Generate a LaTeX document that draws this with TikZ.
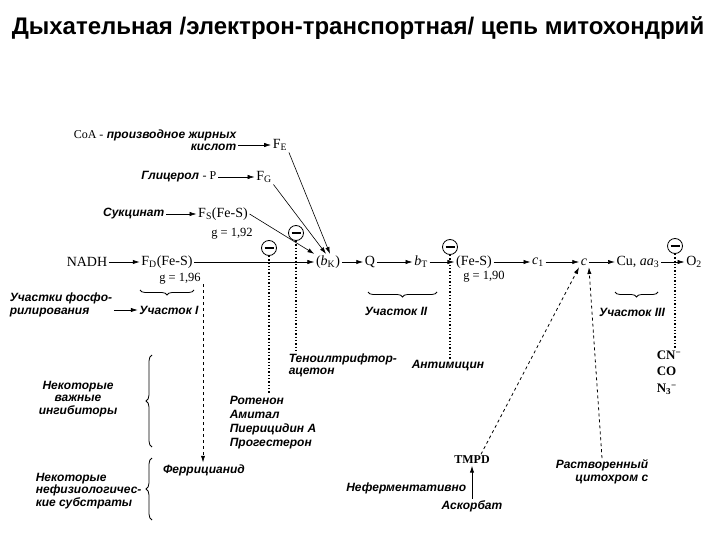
\documentclass[tikz,border=0pt]{standalone}
\usepackage{fontspec}
\setmainfont{Liberation Serif}
\setsansfont{Liberation Sans}
\usetikzlibrary{arrows.meta,decorations.pathreplacing}

\begin{document}
\begin{tikzpicture}[x=1pt, y=-1pt, >={Latex[length=2.4mm,width=1.5mm]}, semithick,
	every node/.style={inner sep=1.5pt},
	carrier/.style={font=\fontsize{14}{16}\selectfont},
	note/.style={font=\sffamily\bfseries\itshape\fontsize{12}{12.5}\selectfont},
	gval/.style={font=\fontsize{12.5}{14}\selectfont},
	block/.style={circle, draw, thick, minimum size=15pt, inner sep=0pt,
		path picture={\draw[line width=1.6pt] ([xshift=-4.5pt]path picture bounding box.center) -- ([xshift=4.5pt]path picture bounding box.center);}},
	blockline/.style={line width=1.3pt, dotted},
	feed/.style={->, thick, dashed},
	site/.style={decorate, decoration={brace, mirror, amplitude=5pt}, thick},
	group/.style={decorate, decoration={brace, amplitude=6pt}, thick}]
	\useasboundingbox (0,0) rectangle (720,540);
	\node[font=\sffamily\bfseries\fontsize{24}{26}\selectfont] (title) at (358,28) {Дыхательная /электрон-транспортная/ цепь митохондрий};
	\node[note, align=right, anchor=east] (coa) at (238,140) {{\rmfamily\upshape\mdseries CoA -} производное жирных\\кислот};
	\node[note, anchor=east] (glyc) at (218,177) {Глицерол {\rmfamily\upshape\mdseries - P}};
	\node[note, anchor=east] (succ) at (166,214) {Сукцинат};
	\node[carrier] (fe) at (280,145) {F\textsubscript{E}};
	\node[carrier] (fg) at (264,177) {F\textsubscript{G}};
	\node[carrier] (fs) at (223,214) {F\textsubscript{S}(Fe-S)};
	\node[gval] (g192) at (232,234) {g = 1,92};
	\node[carrier] (nadh) at (87,262) {NADH};
	\node[carrier] (fd) at (167,262) {F\textsubscript{D}(Fe-S)};
	\node[gval] (g196) at (180,279) {g = 1,96};
	\node[carrier] (bk) at (328,262) {(\textit{b}\textsubscript{K})};
	\node[carrier] (q) at (370,262) {Q};
	\node[carrier] (bt) at (421,262) {\textit{b}\textsubscript{T}};
	\node[carrier] (fes) at (474,262) {(Fe-S)};
	\node[gval] (g190) at (484,277) {g = 1,90};
	\node[carrier] (c1) at (538,262) {\textit{c}\textsubscript{1}};
	\node[carrier] (cc) at (584,262) {\textit{c}};
	\node[carrier] (cu) at (638,262) {Cu, \textit{aa}\textsubscript{3}};
	\node[carrier] (o2) at (694,262) {O\textsubscript{2}};
	\draw[->] (coa.east |- fe) -- (fe);
	\draw[->] (glyc) -- (fg);
	\draw[->] (succ) -- (fs);
	\foreach \a/\b in {nadh/fd, fd/bk, bk/q, q/bt, bt/fes, fes/c1, c1/cc, cc/cu, cu/o2}
		\draw[->] (\a) -- (\b);
	\draw[->] (fe.south east) -- ([xshift=2pt]bk.north);
	\draw[->] (fg.south east) -- ([xshift=-2pt]bk.north);
	\draw[->] (fs.east) -- (bk.north west);
	\node[block] (m1) at (269,248) {};
	\node[block] (m2) at (296,233) {};
	\node[block] (m3) at (450,247) {};
	\node[block] (m4) at (675,246) {};
	\draw[site] (140,290) -- (194,290);
	\draw[site] (368,292) -- (437,292);
	\draw[site] (615,292) -- (658,292);
	\node[note, align=left, anchor=west] (phos) at (8,305) {Участки фосфо-\\рилирования};
	\node[note] (site1) at (169,310) {Участок I};
	\node[note] (site2) at (396,311) {Участок II};
	\node[note] (site3) at (632,312) {Участок III};
	\draw[->] (phos.east |- site1) -- (site1);
	\node[note, align=left, anchor=north west] (tta) at (287,352) {Теноилтрифтор-\\ ацетон};
	\node[note] (anti) at (448,366) {Антимицин};
	\node[note, align=left, anchor=north west, font=\sffamily\bfseries\itshape\fontsize{12}{14}\selectfont] (inhlist) at (228,394) {Ротенон\\Амитал\\Пиерицидин А\\Прогестерон};
	\node[align=left, anchor=north west, font=\bfseries\fontsize{13}{16.5}\selectfont] (cnlist) at (655,349) {CN\textsuperscript{−}\\CO\\N\textsubscript{3}\textsuperscript{−}};
	\draw[blockline] (m1.south) -- (m1.south |- inhlist.north);
	\draw[blockline] (m2.south) -- (m2.south |- tta.north);
	\draw[blockline] (m3.south) -- (m3.south |- anti.north);
	\draw[blockline] (m4.south) -- (m4.south |- cnlist.north);
	\node[note, align=center] (inhlbl) at (78,399) {Некоторые\\важные\\ингибиторы};
	\node[note, align=left, anchor=west] (sublbl) at (34,491) {Некоторые\\нефизиологичес-\\кие субстраты};
	\draw[group] (152,447) -- (152,355);
	\draw[group] (152,520) -- (152,458);
	\node[note] (ferri) at (204,470) {Феррицианид};
	\coordinate (fdx) at (203,284);
	\draw[feed] (fdx) -- (fdx |- ferri.north);
	\node[font=\bfseries\fontsize{12}{14}\selectfont] (tmpd) at (472,460) {TMPD};
	\node[note] (ascorb) at (472,506) {Аскорбат};
	\node[note, anchor=east] (nonenz) at (468,488) {Неферментативно};
	\draw[->, thick] (ascorb.north) -- (tmpd.south);
	\node[note, align=right] (cytc) at (602,472) {Растворенный\\цитохром {\itshape с}};
	\draw[feed] ([xshift=9pt]tmpd.north) -- (cc.south west);
	\draw[feed] (cytc.north) -- (cc.south east);
\end{tikzpicture}
\end{document}
